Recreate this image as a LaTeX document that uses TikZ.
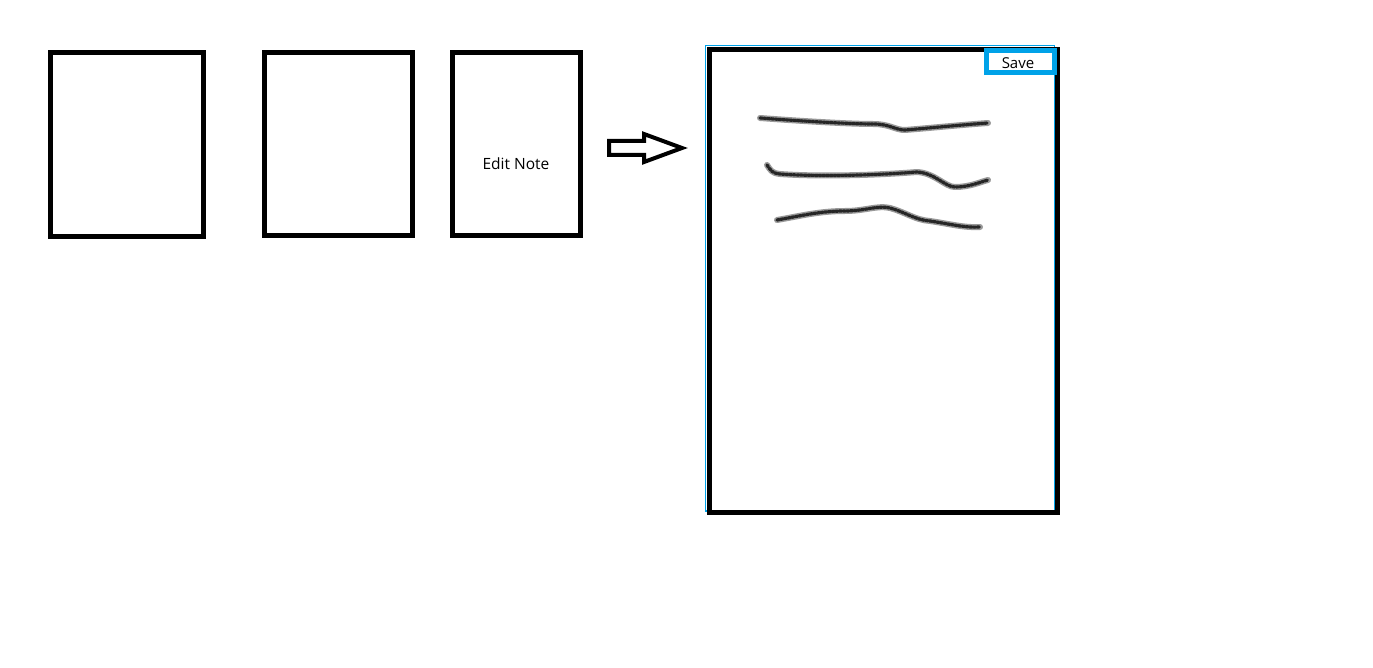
\documentclass[tikz,border=0pt]{standalone}
\usepackage{fontspec}
\setmainfont{Open Sans}
\definecolor{paintblue}{HTML}{00A2E8}
\begin{document}
\begin{tikzpicture}[x=1pt,y=-1pt,
  card/.style={draw=black,line width=5pt,fill=white,inner sep=0pt},
  scribble/.style={line width=6pt,draw=black!40,line cap=round,line join=round},
  scribbletex/.style={line width=3.2pt,draw=black!85,dash pattern=on 2.5pt off 1.2pt,line cap=round},
  lbl/.style={font=\fontsize{15.5}{18}\selectfont,text=black}]
\useasboundingbox[fill=white] (0,0) rectangle (1373,668);
% small cards
\draw[card] (50.5,52.5) rectangle (203.5,236.5);
\node (c1) at (127,144.5) {};
\draw[card] (264.5,52.5) rectangle (412.5,235.5);
\node (c2) at (338.5,144) {};
\draw[card] (452,53) rectangle (580,236);
\node[lbl] (c3) at (516,164) {Edit Note};
% hollow arrow
\draw[line width=4pt,line join=miter,fill=white]
  (609,141) -- (644,141) -- (644,134) -- (682,148) -- (644,162) -- (644,155) -- (609,155) -- cycle;
% selection outline and big page
\draw[paintblue,line width=1.5pt] (705.5,45.5) rectangle (1054.5,511);
\draw[card,fill=none] (709.5,49.5) rectangle (1057.5,512);
% save button
\draw[paintblue,line width=4.5pt,fill=white] (986.5,50.5) rectangle (1054.5,72.5);
\node[lbl,font=\fontsize{15}{18}\selectfont] (save) at (1018,63.5) {Save};
% scribbled text lines
\foreach \s in {scribble,scribbletex}{
\draw[\s] (760,118) .. controls (800,121) and (850,124) .. (873,124)
  .. controls (890,124) and (895,130) .. (905,130)
  .. controls (930,128) and (960,125) .. (988,123);
\draw[\s] (767,165) .. controls (771,171) and (772,173) .. (780,174)
  .. controls (820,177) and (880,175) .. (917,172)
  .. controls (935,173) and (945,187) .. (955,187)
  .. controls (970,187) and (980,182) .. (988,180);
\draw[\s] (777,220) .. controls (800,216) and (820,211) .. (845,211)
  .. controls (865,211) and (878,205) .. (890,208)
  .. controls (905,212) and (915,220) .. (930,221)
  .. controls (950,224) and (965,228) .. (980,227);
}
\end{tikzpicture}
\end{document}
